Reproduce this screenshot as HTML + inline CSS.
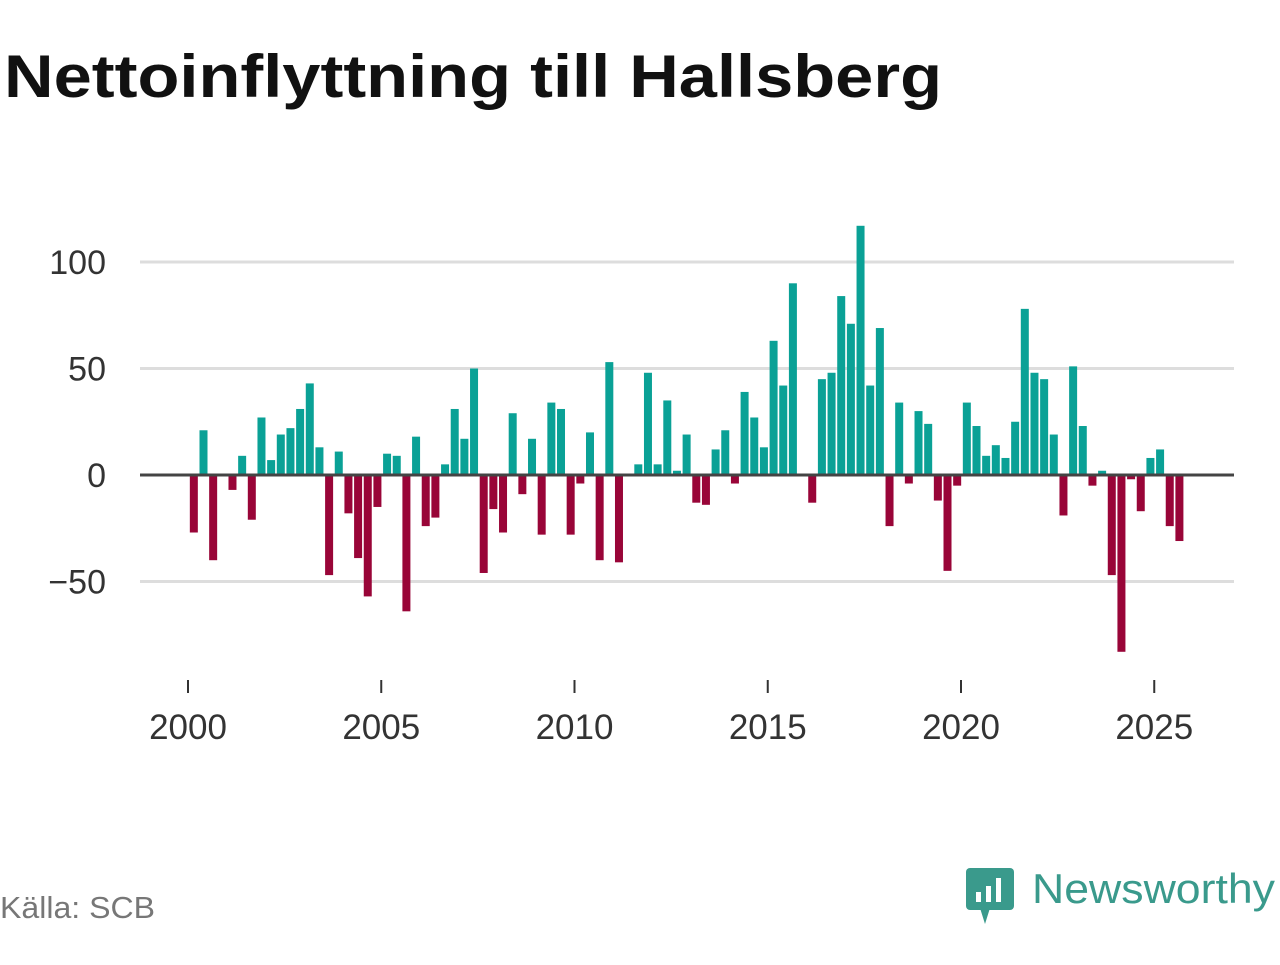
<!DOCTYPE html>
<html><head><meta charset="utf-8"><style>
body{margin:0;background:#fff;width:1280px;height:960px;overflow:hidden;font-family:"Liberation Sans","DejaVu Sans",sans-serif}
</style></head><body>
<svg width="1280" height="960">
<text x="4" y="97" font-size="60" font-weight="bold" fill="#111" textLength="938" lengthAdjust="spacingAndGlyphs">Nettoinflyttning till Hallsberg</text>
<g id="grid"></g><g id="bars"></g><g id="axes"></g>
<text x="0" y="918" font-size="31" fill="#777" textLength="155" lengthAdjust="spacingAndGlyphs">Källa: SCB</text>
<g>
<rect x="966" y="868" width="48" height="42" rx="4" fill="#3a9a8c"/>
<polygon points="980,908 990,908 985,924" fill="#3a9a8c"/>
<rect x="976" y="892" width="5" height="10" fill="#fff"/><rect x="986" y="886" width="5" height="16" fill="#fff"/><rect x="996" y="878" width="5" height="24" fill="#fff"/>
<text x="1032" y="903" font-size="42" fill="#3a9a8c" textLength="243" lengthAdjust="spacingAndGlyphs">Newsworthy</text>
</g>
</svg>
<script>
const values=[-27,21,-40,0,-7,9,-21,27,7,19,22,31,43,13,-47,11,-18,-39,-57,-15,10,9,-64,18,-24,-20,5,31,17,50,-46,-16,-27,29,-9,17,-28,34,31,-28,-4,20,-40,53,-41,0,5,48,5,35,2,19,-13,-14,12,21,-4,39,27,13,63,42,90,0,-13,45,48,84,71,117,42,69,-24,34,-4,30,24,-12,-45,-5,34,23,9,14,8,25,78,48,45,19,-19,51,23,-5,2,-47,-83,-2,-17,8,12,-24,-31];
const yTicks=[100,50,0,-50];
const xTicks=[2000,2005,2010,2015,2020,2025];
const startYear=2000;
const NS='http://www.w3.org/2000/svg';
const y=v=>475-v*2.13;
const x=t=>188+(t-2000)*38.65;
function mk(tag,attrs,parent){const e=document.createElementNS(NS,tag);for(const k in attrs)e.setAttribute(k,attrs[k]);document.getElementById(parent).appendChild(e);return e;}
yTicks.forEach(v=>{
 const l=mk('line',{x1:140,x2:1234,y1:y(v),y2:y(v),stroke:v===0?'#444':'#ddd','stroke-width':3},'grid');
 
 
 const t=mk('text',{x:106,y:y(v)+12,'text-anchor':'end','font-size':34,fill:'#333'},'axes');
 t.textContent=v<0?'\u2212'+(-v):String(v);
 
 
});
values.forEach((v,i)=>{
 const cx=x(startYear+(i+0.5)/4)+1;
 const r=mk('rect',{x:cx-4,width:8,y:Math.min(y(v),y(0)),height:Math.abs(y(v)-y(0)),fill:v>=0?'#0aa196':'#990538'},'bars');
 
 
});
const zl=document.querySelector('#grid line:nth-child(3)');document.getElementById('bars').after(zl);
xTicks.forEach(yr=>{
 const l=mk('line',{x1:x(yr),x2:x(yr),y1:680,y2:693,stroke:'#333','stroke-width':2},'axes');
 
 
 const t=mk('text',{x:x(yr),y:739,'text-anchor':'middle','font-size':35,fill:'#333'},'axes');
 t.textContent=yr;
 
 
});
</script>
</body></html>
